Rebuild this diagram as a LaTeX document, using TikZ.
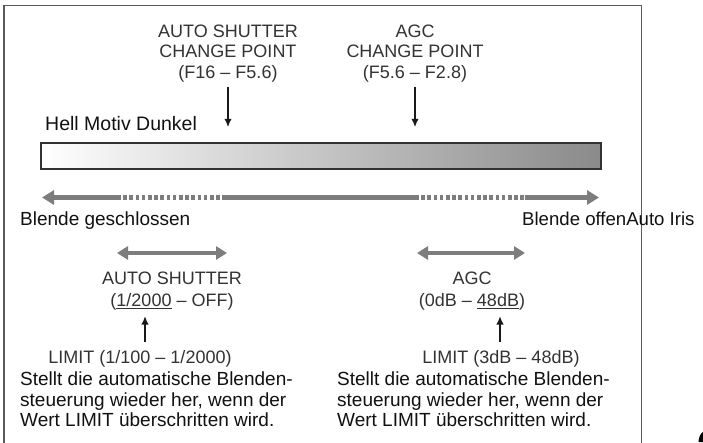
\documentclass[tikz,border=0pt]{standalone}
\usepackage{fontspec}
\setmainfont{Liberation Sans}
\usetikzlibrary{arrows.meta}
\definecolor{lblc}{HTML}{333333}
\definecolor{txtc}{HTML}{111111}
\definecolor{garrow}{HTML}{7D7D7D}
\definecolor{framec}{HTML}{5A5A5A}
\definecolor{barR}{HTML}{8A8A8A}
\newcommand{\ulx}[1]{\vtop{\hbox{#1}\kern1.6pt\hrule height 1.2pt}}
\begin{document}
\begin{tikzpicture}[x=1pt,y=-1pt,
  lbl/.style={font=\fontsize{18}{20.5}\selectfont, text=lblc, inner sep=0pt, align=center},
  para/.style={font=\fontsize{19}{20.4}\selectfont, text=txtc, inner sep=0pt, align=left},
  big/.style={font=\fontsize{19}{21}\selectfont, text=txtc, inner sep=0pt},
  blk/.style={draw=black!90, line width=2pt, -{Latex[length=8.5pt,width=7.5pt]}},
  garr/.style={draw=garrow, line width=4.8pt}
]
\useasboundingbox (0,0) rectangle (703,442);
\clip (0,0) rectangle (703,442);
\fill[white] (0,0) rectangle (703,442);
% frame
\draw[framec, line width=1.5pt] (4,5.5) rectangle (641.5,470);
% header labels
\node[lbl, anchor=north] (hdr1) at (228,24.5) {AUTO SHUTTER\\CHANGE POINT\\(F16 – F5.6)};
\node[lbl, anchor=north] (hdr2) at (415,24.5) {AGC\\CHANGE POINT\\(F5.6 – F2.8)};
\node[big, font=\fontsize{19.5}{21}\selectfont, anchor=base west] (hell) at (45,130.5) {Hell Motiv Dunkel};
% bar
\node[draw=black!80, line width=1.5pt, left color=white, right color=barR,
      minimum width=560pt, minimum height=26pt, inner sep=0pt] (bar) at (321,156) {};
\draw[blk, shorten >=15pt] ([yshift=-4.5pt]hdr1.south) -- (hdr1.south |- bar.north);
\draw[blk, shorten >=15pt] ([yshift=-4.5pt]hdr2.south) -- (hdr2.south |- bar.north);
% big gray arrow
\coordinate (bL) at (42,197.5);
\coordinate (d1a) at (117,197.5);
\coordinate (d1b) at (226,197.5);
\coordinate (d2a) at (415,197.5);
\coordinate (d2b) at (525,197.5);
\coordinate (bR) at (599,197.5);
\draw[garr, {Triangle[length=12pt,width=14pt]}-] (bL) -- (d1a);
\draw[garr, dash pattern=on 3.6pt off 2.6pt] (d1a) -- (d1b);
\draw[garr] (d1b) -- (d2a);
\draw[garr, dash pattern=on 3.6pt off 2.6pt] (d2a) -- (d2b);
\draw[garr, -{Triangle[length=12pt,width=14pt]}] (d2b) -- (bR);
\node[big, anchor=base west] (bgs) at (20,225.5) {Blende geschlossen};
\node[big, font=\fontsize{18.6}{21}\selectfont, anchor=base west] (bof) at (522,225.5) {Blende offenAuto Iris};
% lower left group
\coordinate (l1) at (117,253);
\coordinate (l2) at (227,253);
\draw[garr, {Triangle[length=11pt,width=13pt]}-{Triangle[length=11pt,width=13pt]}] (l1) -- (l2);
\node[lbl, font=\fontsize{18}{21.5}\selectfont, anchor=north] (as) at (172,272) {AUTO SHUTTER\\(\ulx{1/2000} – OFF)};
\node[lbl, anchor=base] (lim1) at (140,363.5) {LIMIT (1/100 – 1/2000)};
\coordinate (u1b) at (145,342);
\coordinate (u1t) at (145,316);
\draw[blk] (u1b) -- (u1t);
\node[para, anchor=north west] (p1) at (20,372) {Stellt die automatische Blenden-\\steuerung wieder her, wenn der\\Wert LIMIT überschritten wird.};
% lower right group
\coordinate (r1) at (417,253);
\coordinate (r2) at (525,253);
\draw[garr, {Triangle[length=11pt,width=13pt]}-{Triangle[length=11pt,width=13pt]}] (r1) -- (r2);
\node[lbl, font=\fontsize{18}{21.5}\selectfont, anchor=north] (agc) at (472,272) {AGC\\(0dB – \ulx{48dB})};
\node[lbl, anchor=base] (lim2) at (501,363.5) {LIMIT (3dB – 48dB)};
\coordinate (u2b) at (500,342);
\coordinate (u2t) at (500,316);
\draw[blk] (u2b) -- (u2t);
\node[para, anchor=north west] (p2) at (337,372) {Stellt die automatische Blenden-\\steuerung wieder her, wenn der\\Wert LIMIT überschritten wird.};
% corner fragment
\fill[black] (698.5,442) .. controls (698.5,438) and (700.5,433) .. (703,432) -- (703,442) -- cycle;
\end{tikzpicture}
\end{document}
